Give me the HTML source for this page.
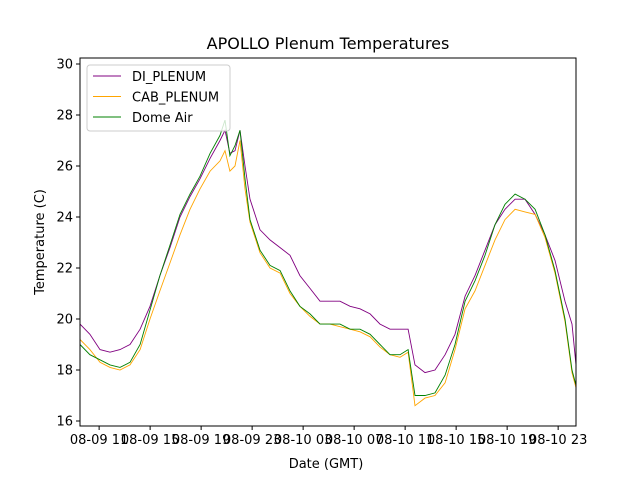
<!DOCTYPE html>
<html><head><meta charset="utf-8"><style>
body{margin:0;background:#fff}
svg{display:block;font-family:"DejaVu Sans","Liberation Sans",sans-serif}
</style></head><body>
<svg id="chart" width="640" height="480" viewBox="0 0 640 480">
<rect width="640" height="480" fill="#fff"/>
<text x="328" y="49" font-size="16" text-anchor="middle">APOLLO Plenum Temperatures</text>
<g id="plot"></g>
<text x="326" y="468" font-size="13" text-anchor="middle">Date (GMT)</text>
<text transform="translate(44,242) rotate(-90)" font-size="13" text-anchor="middle">Temperature (C)</text>
</svg>
<script>
const hours=[9.5,10.28,11.07,11.85,12.64,13.42,14.21,14.99,15.77,16.56,17.34,18.13,18.91,19.70,20.48,20.87,21.26,21.66,22.05,22.44,22.83,23.62,24.40,25.19,25.97,26.75,27.54,28.32,29.11,29.89,30.68,31.46,32.25,33.03,33.81,34.60,35.23,35.77,36.56,37.34,38.13,38.91,39.70,40.48,41.26,42.05,42.83,43.62,44.40,45.19,45.97,46.75,47.54,48.09,48.40];
const diPlenum=[19.8,19.4,18.8,18.7,18.8,19.0,19.6,20.5,21.7,22.8,24.0,24.8,25.5,26.3,27.0,27.4,26.5,26.6,27.4,26.0,24.7,23.5,23.1,22.8,22.5,21.7,21.2,20.7,20.7,20.7,20.5,20.4,20.2,19.8,19.6,19.6,19.6,18.2,17.9,18.0,18.6,19.4,20.9,21.7,22.7,23.7,24.3,24.7,24.7,24.1,23.3,22.3,20.7,19.8,18.2];
const cabPlenum=[19.2,18.8,18.3,18.1,18.0,18.2,18.8,20.0,21.1,22.2,23.3,24.3,25.1,25.8,26.2,26.6,25.8,26.0,27.0,25.1,23.8,22.6,22.0,21.8,21.0,20.5,20.1,19.8,19.8,19.7,19.6,19.5,19.3,18.9,18.6,18.5,18.7,16.6,16.9,17.0,17.5,18.8,20.4,21.1,22.1,23.1,23.9,24.3,24.2,24.1,23.2,21.8,19.9,17.9,17.3];
const domeAir=[19.0,18.6,18.4,18.2,18.1,18.3,19.0,20.35,21.7,22.9,24.1,24.9,25.6,26.5,27.2,27.8,26.4,26.8,27.4,25.5,23.9,22.7,22.1,21.9,21.1,20.5,20.2,19.8,19.8,19.8,19.6,19.6,19.4,19.0,18.6,18.6,18.8,17.0,17.0,17.1,17.8,19.0,20.7,21.5,22.5,23.7,24.5,24.9,24.7,24.3,23.3,21.9,20.0,18.0,17.4];
const yTicks=[16,18,20,22,24,26,28,30];
const xTickHours=[11,15,19,23,27,31,35,39,43,47];
const xTickLabels=["08-09 11","08-09 15","08-09 19","08-09 23","08-10 03","08-10 07","08-10 11","08-10 15","08-10 19","08-10 23"];

const L=80,R=576,T=58,B=426;
const xMin=9.5,xMax=48.4;
const X=h=>L+(h-xMin)/(xMax-xMin)*(R-L);
const Y=v=>421-(v-16)*25.5;
const NS="http://www.w3.org/2000/svg";
const g=document.getElementById('plot');
function mk(tag,attrs){const e=document.createElementNS(NS,tag);for(const k in attrs)e.setAttribute(k,attrs[k]);g.appendChild(e);return e;}

function series(vals,color,name){
  const d=vals.map((v,i)=>(i?'L':'M')+X(hours[i]).toFixed(1)+','+Y(v).toFixed(1)).join(' ');
  const p=mk('path',{d:d,fill:'none',stroke:color,'stroke-width':0.9});
  
  
}
series(diPlenum,'#800080','di-plenum-line');
series(cabPlenum,'#ffa500','cab-plenum-line');
series(domeAir,'#008000','dome-air-line');

const frame=mk('rect',{x:L,y:T,width:R-L,height:B-T,fill:'none',stroke:'#000','stroke-width':1});



yTicks.forEach(v=>{
  const y=Y(v);
  const tk=mk('line',{x1:L-4,x2:L,y1:y,y2:y,stroke:'#000'});
  
  
  const t=mk('text',{x:L-7,y:y+4.5,'font-size':13,'text-anchor':'end'});
  t.textContent=v;
  
  
});
xTickHours.forEach((h,i)=>{
  const x=X(h);
  const tk=mk('line',{x1:x,x2:x,y1:B,y2:B+4,stroke:'#000'});
  
  
  const t=mk('text',{x:x,y:B+18,'font-size':13,'text-anchor':'middle'});
  t.textContent=xTickLabels[i];
  
  
});

// legend
const lg=mk('rect',{x:87,y:65,width:143,height:66,rx:3,fill:'#fff','fill-opacity':0.8,stroke:'#ccc'});


[['DI_PLENUM','#800080'],['CAB_PLENUM','#ffa500'],['Dome Air','#008000']].forEach((e,i)=>{
  const y=76+i*20.5;
  const ln=mk('line',{x1:93,x2:121,y1:y,y2:y,stroke:e[1],'stroke-width':0.9});
  
  
  const t=mk('text',{x:132,y:y+5,'font-size':13});
  t.textContent=e[0];
  
  
});
</script>
</body></html>
